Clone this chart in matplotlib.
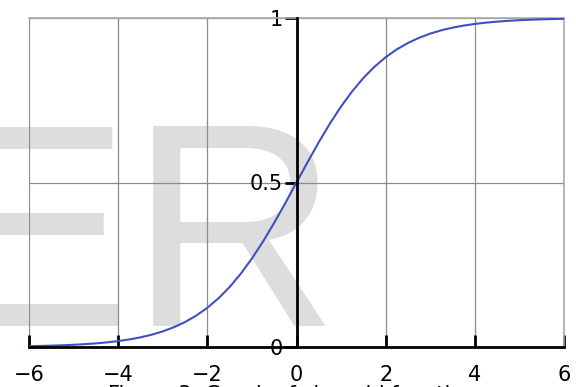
import matplotlib
matplotlib.use("Agg")
import matplotlib.pyplot as plt

# sampled points of the logistic curve
x_vals = [-6.0, -5.75, -5.5, -5.25, -5.0, -4.75, -4.5, -4.25, -4.0, -3.75,
          -3.5, -3.25, -3.0, -2.75, -2.5, -2.25, -2.0, -1.75, -1.5, -1.25,
          -1.0, -0.75, -0.5, -0.25, 0.0, 0.25, 0.5, 0.75, 1.0, 1.25,
          1.5, 1.75, 2.0, 2.25, 2.5, 2.75, 3.0, 3.25, 3.5, 3.75,
          4.0, 4.25, 4.5, 4.75, 5.0, 5.25, 5.5, 5.75, 6.0]
y_vals = [0.0025, 0.0032, 0.0041, 0.0052, 0.0067, 0.0086, 0.0110, 0.0141, 0.0180, 0.0230,
          0.0293, 0.0373, 0.0474, 0.0601, 0.0759, 0.0953, 0.1192, 0.1480, 0.1824, 0.2227,
          0.2689, 0.3208, 0.3775, 0.4378, 0.5000, 0.5622, 0.6225, 0.6792, 0.7311, 0.7773,
          0.8176, 0.8520, 0.8808, 0.9047, 0.9241, 0.9399, 0.9526, 0.9627, 0.9707, 0.9770,
          0.9820, 0.9859, 0.9890, 0.9914, 0.9933, 0.9948, 0.9959, 0.9968, 0.9975]

x_ticks = [-6, -4, -2, 0, 2, 4, 6]
x_tick_labels = ["\u22126", "\u22124", "\u22122", "0", "2", "4", "6"]
y_ticks = [0, 0.5, 1]
y_tick_labels = ["0", "0.5", "1"]

W, H = 576, 387
fig = plt.figure(figsize=(W / 100, H / 100), dpi=100)

# big pale lettering behind the plot
fig.text(-64 / W, 1 - 326 / H, "ER", fontsize=209, color="#dddddd",
         family="Liberation Sans", ha="left", va="baseline", zorder=0)

ax = fig.add_axes([29 / W, 1 - 347 / H, (564 - 29) / W, (347 - 18) / H])
ax.set_zorder(2)
ax.set_facecolor("none")
ax.set_xlim(-6, 6)
ax.set_ylim(0, 1)

# grid
for gx in [-6, -4, -2, 2, 4, 6]:
    ax.axvline(gx, color="#8c8c8c", lw=0.9, zorder=1)
for gy in [0.5, 1]:
    ax.axhline(gy, color="#8c8c8c", lw=0.9, zorder=1)

ax.plot(x_vals, y_vals, color="#3f51c2", lw=1.5, zorder=3)

for side in ["top", "right"]:
    ax.spines[side].set_color("#aaaaaa")
    ax.spines[side].set_linewidth(1.2)
ax.spines["left"].set_position(("data", 0))
ax.spines["left"].set_linewidth(2)
ax.spines["bottom"].set_linewidth(2)
ax.spines["left"].set_zorder(4)
ax.spines["bottom"].set_zorder(4)

ax.set_xticks(x_ticks)
ax.set_xticklabels(x_tick_labels)
ax.set_yticks(y_ticks)
ax.set_yticklabels(y_tick_labels)
ax.tick_params(axis="x", direction="in", length=9, width=2, pad=13, labelsize=15)
ax.tick_params(axis="y", direction="out", length=9, width=2, pad=1, labelsize=15)

fig.text(108 / W, 1 - 401 / H, "Figure 3: Graph of sigmoid function",
         fontsize=15, ha="left", va="baseline")

fig.savefig("out.png", dpi=100)
